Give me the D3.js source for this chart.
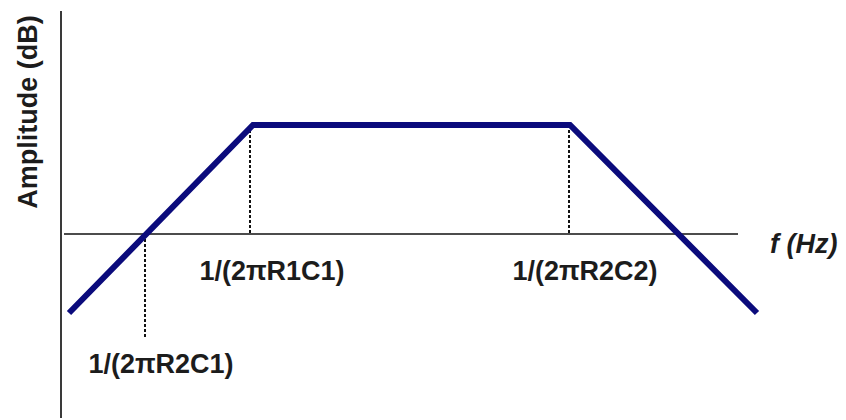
<!DOCTYPE html>
<html>
<head>
<meta charset="utf-8">
<script src="https://cdn.jsdelivr.net/npm/d3@7"></script>
<style>
  html, body { margin: 0; padding: 0; background: #ffffff; }
  svg { display: block; }
  text { font-family: "Liberation Sans", Arial, sans-serif; font-weight: bold; fill: #1c1c1c; }
</style>
</head>
<body>
<svg id="chart" width="846" height="420"></svg>
<script>
// Asymptotic band-pass magnitude response (log-frequency in decades, amplitude in dB)
const responseDecades = [0.08, 1.92, 5.09, 6.96];
const responseDb      = [-15.8, 21.8, 21.8, -15.8];

// Break frequencies marked with dotted drop lines
const breakLabels  = ["1/(2\u03c0R2C1)", "1/(2\u03c0R1C1)", "1/(2\u03c0R2C2)"];
const breakDecades = [0.84, 1.89, 5.08];
const breakDb      = [0, 21.8, 21.8];
const breakDropDb  = [-20.8, 0, 0];       // lower end of each dotted line
const breakLabelDb = [-27.8, -9.2, -9.2]; // label baseline level

const yAxisTitle = "Amplitude (dB)";
const xAxisTitle = "f (Hz)";

const svg = d3.select("#chart");

const x = d3.scaleLinear().domain([0, 7]).range([61, 761]);
const y = d3.scaleLinear().domain([-36.8, 44.6]).range([418, 11]);

// Vertical amplitude axis
svg.append("line")
  .attr("x1", x(0)).attr("x2", x(0))
  .attr("y1", y(44.6)).attr("y2", y(-36.8))
  .attr("stroke", "#3a3a3a").attr("stroke-width", 2);

// 0 dB frequency axis
svg.append("line")
  .attr("x1", x(0.03)).attr("x2", x(6.77))
  .attr("y1", y(0)).attr("y2", y(0))
  .attr("stroke", "#111").attr("stroke-width", 1.5);

// Dotted drop lines at the break frequencies
svg.selectAll("line.drop")
  .data(breakDecades)
  .join("line")
  .attr("class", "drop")
  .attr("x1", d => x(d)).attr("x2", d => x(d))
  .attr("y1", (d, i) => y(breakDb[i]))
  .attr("y2", (d, i) => y(breakDropDb[i]))
  .attr("stroke", "#111")
  .attr("stroke-width", 2)
  .attr("stroke-dasharray", "3,2");

// Magnitude asymptote
const line = d3.line()
  .x((d, i) => x(responseDecades[i]))
  .y(d => y(d));

svg.append("path")
  .datum(responseDb)
  .attr("d", line)
  .attr("fill", "none")
  .attr("stroke", "#0b0b7c")
  .attr("stroke-width", 6)
  .attr("stroke-linejoin", "miter");

// Break frequency labels
const labelDx = [16, 22, 16];
svg.selectAll("text.brk")
  .data(breakLabels)
  .join("text")
  .attr("class", "brk")
  .attr("x", (d, i) => x(breakDecades[i]) + labelDx[i])
  .attr("y", (d, i) => y(breakLabelDb[i]))
  .attr("text-anchor", "middle")
  .attr("font-size", 27)
  .text(d => d);

// Axis titles
svg.append("text")
  .attr("x", 770).attr("y", y(-3.8))
  .attr("font-size", 27)
  .attr("font-style", "italic")
  .text(xAxisTitle);

svg.append("text")
  .attr("transform", `translate(37, ${y(24.4)}) rotate(-90)`)
  .attr("text-anchor", "middle")
  .attr("font-size", 27)
  .text(yAxisTitle);
</script>
</body>
</html>
